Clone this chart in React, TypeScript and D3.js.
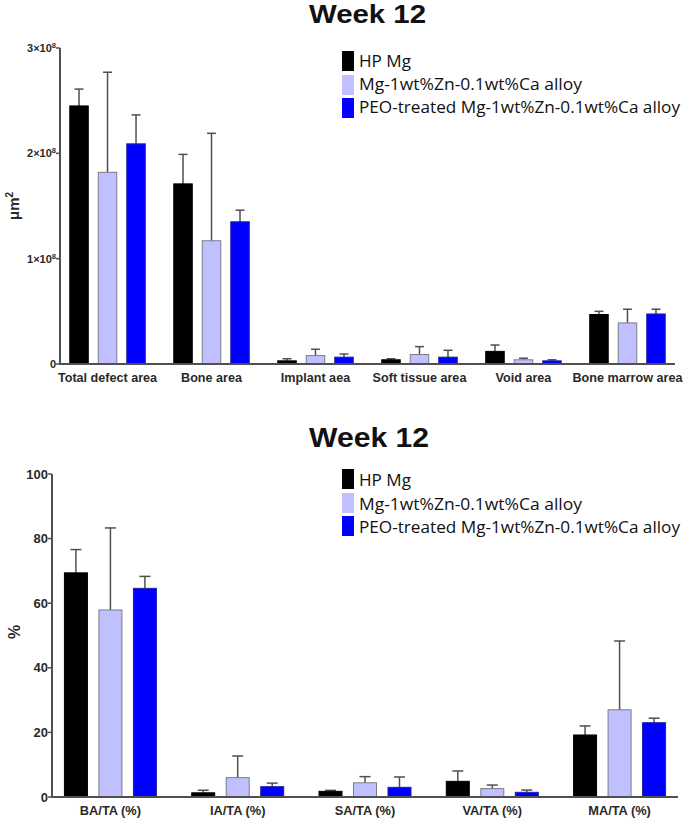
import React from "react";
import * as d3 from "d3";

const seriesNames = ["HP Mg", "Mg-1wt%Zn-0.1wt%Ca alloy", "PEO-treated Mg-1wt%Zn-0.1wt%Ca alloy"];
const seriesColors = ["#000000", "#c0c0ff", "#0000ff"];

const areaCategories = ["Total defect area", "Bone area", "Implant aea", "Soft tissue area", "Void area", "Bone marrow area"];
// values in units of 1e8 µm²
const areaHP = [2.45, 1.71, 0.03, 0.04, 0.12, 0.47];
const areaHPErr = [0.16, 0.28, 0.02, 0.01, 0.06, 0.03];
const areaAlloy = [1.82, 1.17, 0.08, 0.09, 0.04, 0.39];
const areaAlloyErr = [0.95, 1.02, 0.06, 0.075, 0.015, 0.13];
const areaPEO = [2.09, 1.35, 0.065, 0.065, 0.03, 0.475];
const areaPEOErr = [0.275, 0.11, 0.03, 0.065, 0.01, 0.045];
const areaTicks = [0, 1, 2, 3];

const ratioCategories = ["BA/TA (%)", "IA/TA (%)", "SA/TA (%)", "VA/TA (%)", "MA/TA (%)"];
const ratioHP = [69.4, 1.3, 1.75, 4.85, 19.2];
const ratioHPErr = [7.2, 0.8, 0.3, 3.2, 2.8];
const ratioAlloy = [57.9, 6.0, 4.4, 2.6, 27.0];
const ratioAlloyErr = [25.4, 6.7, 1.9, 1.1, 21.3];
const ratioPEO = [64.6, 3.2, 3.0, 1.45, 23.0];
const ratioPEOErr = [3.7, 1.1, 3.2, 0.7, 1.4];
const ratioTicks = [0, 20, 40, 60, 80, 100];

const AXIS = "#505050";
const TXT = "#2a2a2a";

type PanelProps = {
  categories: string[];
  values: number[][];
  errors: number[][];
  ticks: number[];
  tickLabel: (t: number) => React.ReactNode;
  yDomain: [number, number];
  xRange: [number, number];
  yRange: [number, number];
  pointPad: number;
  offset: number;
  barW: number;
  capW: number;
  catFont: number;
  tickFont: number;
  catY: number;
};

function Panel(p: PanelProps) {
  const x = d3.scalePoint<string>().domain(p.categories).range(p.xRange).padding(p.pointPad);
  const y = d3.scaleLinear().domain(p.yDomain).range(p.yRange);
  const x0 = p.xRange[0];
  return (
    <g>
      {p.categories.map((c, i) =>
        p.values.map((vals, s) => {
          const cx = (x(c) as number) + (s - 1) * p.offset;
          const v = vals[i];
          const e = p.errors[s][i];
          return (
            <g key={c + s}>
              <line x1={cx} x2={cx} y1={y(v)} y2={y(v + e)} stroke={AXIS} strokeWidth={1.5} />
              <line x1={cx - p.capW / 2} x2={cx + p.capW / 2} y1={y(v + e)} y2={y(v + e)} stroke={AXIS} strokeWidth={1.5} />
              <rect
                x={cx - p.barW / 2}
                y={y(v)}
                width={p.barW}
                height={y(0) - y(v)}
                fill={seriesColors[s]}
                stroke={s === 1 ? "#7a7a8a" : s === 2 ? "#2020a0" : "#000"}
                strokeWidth={1}
              />
            </g>
          );
        })
      )}
      <line x1={x0} x2={x0} y1={y(p.yDomain[1])} y2={y(0)} stroke={AXIS} strokeWidth={2} />
      <line x1={x0 - 1} x2={p.xRange[1]} y1={y(0)} y2={y(0)} stroke={AXIS} strokeWidth={2} />
      {p.ticks.map((t) => (
        <g key={t}>
          <line x1={x0 - 4} x2={x0} y1={y(t)} y2={y(t)} stroke={AXIS} strokeWidth={1.5} />
          <text
            x={x0 - 4}
            y={y(t)}
            dy="0.35em"
            textAnchor="end"
            fontFamily="Liberation Sans, Arial, sans-serif"
            fontWeight="bold"
            fontSize={p.tickFont}
            fill={TXT}
          >
            {p.tickLabel(t)}
          </text>
        </g>
      ))}
      {p.categories.map((c) => (
        <text
          key={c}
          x={x(c) as number}
          y={p.catY}
          textAnchor="middle"
          fontFamily="Liberation Sans, Arial, sans-serif"
          fontWeight="bold"
          fontSize={p.catFont}
          fill={TXT}
        >
          {c}
        </text>
      ))}
    </g>
  );
}

function Legend({ top, baselines }: { top: number[]; baselines: number[] }) {
  const widths = [52, 223, 321];
  return (
    <g>
      {seriesNames.map((n, i) => (
        <g key={n}>
          <rect x={342} y={top[i]} width={12} height={20} fill={seriesColors[i]} />
          <text
            x={359}
            y={baselines[i]}
            fontFamily="Open Sans, Noto Sans, sans-serif"
            fontSize={16.5}
            fill="#111"
            textLength={widths[i]}
            lengthAdjust="spacingAndGlyphs"
          >
            {n}
          </text>
        </g>
      ))}
    </g>
  );
}

function Title({ y, size, width }: { y: number; size: number; width: number }) {
  return (
    <text
      x={309}
      y={y}
      fontFamily="Liberation Sans, Arial, sans-serif"
      fontWeight="bold"
      fontSize={size}
      fill="#111"
      textLength={width}
      lengthAdjust="spacingAndGlyphs"
    >
      Week 12
    </text>
  );
}

export default function App() {
  const sci = (t: number) =>
    t === 0 ? (
      "0"
    ) : (
      <>
        {t}×10
        <tspan fontSize={7.5} dy={-4}>8</tspan>
      </>
    );
  return (
    <svg width={685} height={818} style={{ position: "absolute", left: 0, top: 0, background: "#fff" }}>
      <rect width={685} height={818} fill="#fff" />
      <Title y={23} size={26} width={117} />
      <Legend top={[51, 75, 98]} baselines={[67, 90, 113]} />
      <Panel
        categories={areaCategories}
        values={[areaHP, areaAlloy, areaPEO]}
        errors={[areaHPErr, areaAlloyErr, areaPEOErr]}
        ticks={areaTicks}
        tickLabel={sci}
        yDomain={[0, 3]}
        xRange={[60, 675]}
        yRange={[364, 48]}
        pointPad={0.457}
        offset={28.5}
        barW={18.5}
        capW={9}
        catFont={12.6}
        tickFont={11}
        catY={382}
      />
      <text
        transform="translate(19,206) rotate(-90)"
        textAnchor="middle"
        fontFamily="Liberation Sans, Arial, sans-serif"
        fontWeight="bold"
        fontSize={15}
        fill={TXT}
      >
        μm<tspan fontSize={10} dy={-6}>2</tspan>
      </text>

      <Title y={447} size={27} width={120} />
      <Legend top={[469, 493, 516]} baselines={[486, 510, 533]} />
      <Panel
        categories={ratioCategories}
        values={[ratioHP, ratioAlloy, ratioPEO]}
        errors={[ratioHPErr, ratioAlloyErr, ratioPEOErr]}
        ticks={ratioTicks}
        tickLabel={(t) => String(t)}
        yDomain={[0, 100]}
        xRange={[52, 678]}
        yRange={[797, 474]}
        pointPad={0.459}
        offset={34.5}
        barW={23}
        capW={11}
        catFont={12.8}
        tickFont={13}
        catY={815}
      />
      <text
        transform="translate(20,632) rotate(-90)"
        textAnchor="middle"
        fontFamily="Liberation Sans, Arial, sans-serif"
        fontWeight="bold"
        fontSize={16}
        fill={TXT}
      >
        %
      </text>
    </svg>
  );
}
